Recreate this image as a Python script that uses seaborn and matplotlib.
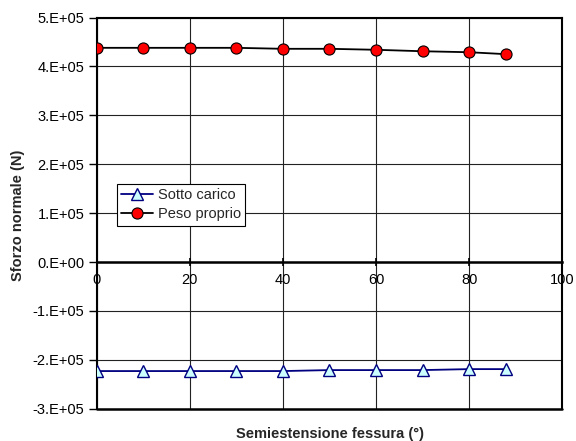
import matplotlib
matplotlib.use("Agg")
import matplotlib.pyplot as plt
import seaborn as sns
import pandas as pd

# Data
angles = [0, 10, 20, 30, 40, 50, 60, 70, 80, 88]
sotto_carico = [-2.23e5, -2.23e5, -2.23e5, -2.23e5, -2.23e5, -2.21e5, -2.21e5, -2.21e5, -2.19e5, -2.19e5]
peso_proprio = [4.38e5, 4.38e5, 4.38e5, 4.38e5, 4.36e5, 4.36e5, 4.34e5, 4.31e5, 4.29e5, 4.25e5]
series_names = ["Sotto carico", "Peso proprio"]
y_ticks = [-3e5, -2e5, -1e5, 0, 1e5, 2e5, 3e5, 4e5, 5e5]
y_ticklabels = ["-3.E+05", "-2.E+05", "-1.E+05", "0.E+00", "1.E+05", "2.E+05", "3.E+05", "4.E+05", "5.E+05"]
x_ticks = [0, 20, 40, 60, 80, 100]
x_label = "Semiestensione fessura (°)"
y_label = "Sforzo normale (N)"

sns.set_style("white")
plt.rcParams['font.family'] = ['Liberation Sans', 'DejaVu Sans']

fig = plt.figure(figsize=(5.76, 4.41), dpi=100)
ax = fig.add_axes([0.168, 0.0732, 0.808, 0.8871])

df1 = pd.DataFrame({"x": angles, "y": sotto_carico})
df2 = pd.DataFrame({"x": angles, "y": peso_proprio})

sns.lineplot(data=df1, x="x", y="y", ax=ax, color="#000080", lw=1.3,
             marker="^", markersize=9, markerfacecolor="#CCFFFF",
             markeredgecolor="#000080", markeredgewidth=1.0,
             label=series_names[0], zorder=5)
sns.lineplot(data=df2, x="x", y="y", ax=ax, color="black", lw=1.3,
             marker="o", markersize=8, markerfacecolor="#FF0000",
             markeredgecolor="black", markeredgewidth=0.8,
             label=series_names[1], zorder=5)

ax.set_xlim(0, 100)
ax.set_ylim(-3e5, 5e5)
ax.set_yticks(y_ticks)
ax.set_yticklabels(y_ticklabels)
ax.set_xticks(x_ticks)
ax.set_xticklabels([str(v) for v in x_ticks])

ax.grid(True, color="#222222", lw=0.8)
ax.set_axisbelow(True)

for s in ["top", "left", "right"]:
    ax.spines[s].set_color("black")
    ax.spines[s].set_linewidth(1.5)
    ax.spines[s].set_visible(True)
ax.spines["bottom"].set_position(("data", 0))
ax.spines["bottom"].set_color("black")
ax.spines["bottom"].set_linewidth(1.8)
ax.spines["bottom"].set_visible(True)
ax.axhline(-3e5, color="black", lw=1.8, clip_on=False, zorder=6)

ax.tick_params(axis="x", direction="inout", length=6, width=1.2, pad=5,
               labelsize=10.5, colors="black", bottom=True)
ax.tick_params(axis="y", direction="out", length=6, width=1.0, pad=3,
               labelsize=10.5, colors="black", left=True)

ax.set_xlabel("")
ax.set_ylabel("")
fig.text(0.573, 0.016, x_label, ha="center", va="center",
         fontsize=10.5, fontweight="bold")
fig.text(0.032, 0.512, y_label, ha="center", va="center", rotation=90,
         fontsize=10.5, fontweight="bold")

leg = ax.legend(loc="upper left", bbox_to_anchor=(0.043, 0.575), frameon=True,
                fancybox=False, fontsize=10.5, borderpad=0.3, handlelength=2.2,
                handletextpad=0.3, labelspacing=0.35, borderaxespad=0)
leg.get_frame().set_edgecolor("black")
leg.get_frame().set_linewidth(0.8)
leg.get_frame().set_facecolor("white")
leg.get_frame().set_alpha(1)

fig.savefig("out.png", dpi=100)
